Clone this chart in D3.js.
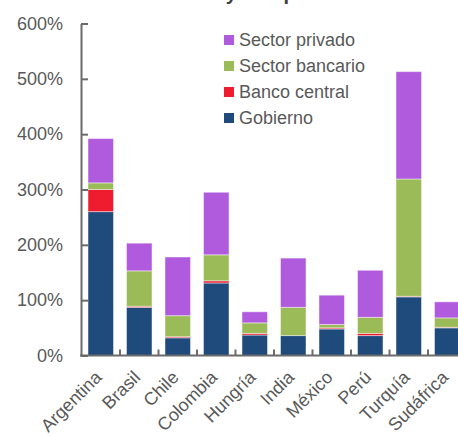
<!DOCTYPE html>
<html>
<head>
<meta charset="utf-8">
<script src="https://cdn.jsdelivr.net/npm/d3@7"></script>
<style>
  html, body { margin: 0; padding: 0; background: #fff; }
  svg { display: block; font-family: "Liberation Sans", Arial, sans-serif; }
</style>
</head>
<body>
<svg id="chart" width="458" height="436"></svg>
<script>
// Deuda por país, desglosada por sector (% del total)
const categories = ["Argentina", "Brasil", "Chile", "Colombia", "Hungría", "India", "México", "Perú", "Turquía", "Sudáfrica"];
const gobierno       = [260, 87, 32, 131, 37, 36, 48, 36, 106, 50];
const bancoCentral   = [40, 2, 2, 4, 3, 0, 2, 4, 1, 1];
const sectorBancario = [12, 64, 38, 47, 19, 51, 6, 29, 212, 17];
const sectorPrivado  = [80, 50, 106, 113, 20, 89, 53, 85, 194, 29];
const seriesNames  = ["Gobierno", "Banco central", "Sector bancario", "Sector privado"];
const seriesColors = ["#1F4A7C", "#EE1C2E", "#9BBB59", "#B05ADE"];
const yTicks = [0, 100, 200, 300, 400, 500, 600];

const svg = d3.select("#chart");
const textColor = "#595959";
const axisColor = "#6b6b6b";

const rows = categories.map((c, i) => ({
  pais: c,
  "Gobierno": gobierno[i],
  "Banco central": bancoCentral[i],
  "Sector bancario": sectorBancario[i],
  "Sector privado": sectorPrivado[i]
}));
const stacked = d3.stack().keys(seriesNames)(rows);

const x = d3.scaleBand()
  .domain(categories)
  .range([81.5, 466.5])
  .paddingInner(0.338)
  .paddingOuter(0.169);
const y = d3.scaleLinear().domain([0, 600]).range([355.5, 23.5]);
const color = d3.scaleOrdinal().domain(seriesNames).range(seriesColors);

// Title (runs off the top edge of the page)
svg.append("text")
  .attr("x", 224).attr("y", 0)
  .attr("text-anchor", "middle")
  .attr("font-size", 20).attr("font-weight", "bold")
  .attr("fill", "#404040")
  .text("Deuda externa y composición");

// Stacked bars
svg.append("g").selectAll("g")
  .data(stacked)
  .join("g")
  .attr("fill", d => color(d.key))
  .selectAll("rect")
  .data(d => d)
  .join("rect")
  .attr("x", d => x(d.data.pais))
  .attr("width", x.bandwidth())
  .attr("y", d => y(d[1]))
  .attr("height", d => Math.max(0, y(d[0]) - y(d[1])))
  .attr("stroke", "#ffffff")
  .attr("stroke-opacity", 0.45)
  .attr("stroke-width", 1);

// Y axis
const yAxis = d3.axisLeft(y)
  .tickValues(yTicks)
  .tickFormat(d => d + "%")
  .tickSizeInner(-7)
  .tickSizeOuter(0)
  .tickPadding(18);
const gy = svg.append("g").attr("transform", "translate(81,0)").call(yAxis);
gy.select(".domain").attr("stroke", axisColor).attr("stroke-width", 2);
gy.selectAll(".tick line").attr("stroke", axisColor).attr("stroke-width", 2);
gy.selectAll(".tick text").attr("fill", textColor).attr("font-size", 18)
  .attr("font-family", "Liberation Sans, Arial, sans-serif");

// X axis: baseline, boundary ticks and rotated labels
const xAxis = d3.axisBottom(x).tickSize(0).tickPadding(0);
const gx = svg.append("g").attr("transform", `translate(0,${y(0)})`).call(xAxis);
gx.select(".domain").remove();
gx.append("line")
  .attr("x1", 80).attr("x2", 466.5)
  .attr("stroke", axisColor).attr("stroke-width", 2);
const step = x.step();
gx.selectAll(".bound")
  .data(categories)
  .join("line")
  .attr("class", "bound")
  .attr("x1", d => x(d) + x.bandwidth() + (step - x.bandwidth()) / 2)
  .attr("x2", d => x(d) + x.bandwidth() + (step - x.bandwidth()) / 2)
  .attr("y1", 0).attr("y2", -6)
  .attr("stroke", axisColor).attr("stroke-width", 2);
gx.selectAll(".tick text")
  .attr("fill", textColor).attr("font-size", 18)
  .attr("font-family", "Liberation Sans, Arial, sans-serif")
  .attr("text-anchor", "end")
  .attr("dy", 0)
  .attr("transform", "translate(2,23) rotate(-45)");

// Legend
const legend = svg.append("g").attr("transform", "translate(224,40)");
const legendOrder = seriesNames.slice().reverse();
const li = legend.selectAll("g")
  .data(legendOrder)
  .join("g")
  .attr("transform", (d, i) => `translate(0,${i * 26})`);
li.append("rect")
  .attr("x", 0).attr("y", -5)
  .attr("width", 10).attr("height", 10)
  .attr("fill", d => color(d));
li.append("text")
  .attr("x", 15).attr("y", 0).attr("dy", "0.35em")
  .attr("font-size", 18).attr("fill", textColor)
  .text(d => d);
</script>
</body>
</html>
